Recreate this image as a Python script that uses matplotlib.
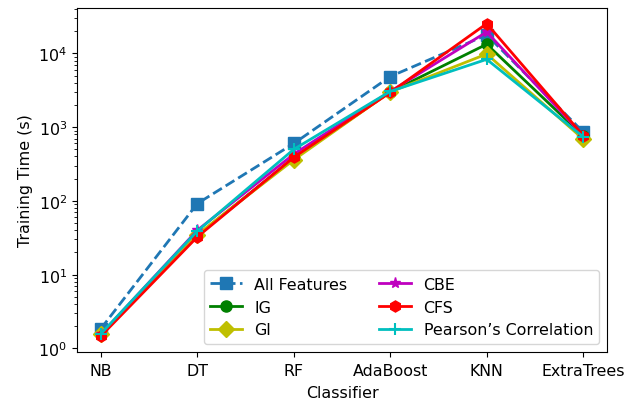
"""Training time per classifier, with and without feature selection.

Writes : out.png
"""

import matplotlib
matplotlib.use("Agg")
import matplotlib.pyplot as plt
import numpy as np

# ---------------------------------------------------------------------------
# Data
# ---------------------------------------------------------------------------

classifiers  = ["NB", "DT", "RF", "AdaBoost", "KNN", "ExtraTrees"]
all_features = [1.85, 92, 600, 4850, 17800, 860]
ig_times     = [1.55, 34, 380, 3000, 13300, 760]
gi_times     = [1.55, 35, 360, 3000, 9800, 690]
cbe_times    = [1.55, 40, 430, 3050, 19500, 770]
cfs_times    = [1.47, 32.5, 390, 2950, 25300, 770]
pearson      = [1.58, 39, 500, 3050, 8300, 740]

FONT = 11.4
plt.rcParams["font.size"] = FONT


def main() -> None:
    x = np.arange(len(classifiers))

    fig, ax = plt.subplots(figsize=(6.41, 4.02), dpi=100)
    fig.subplots_adjust(left=0.1197, right=0.9474, top=0.9776, bottom=0.1226)

    lw, ms = 2.0, 8
    ax.plot(x, all_features, "s--", color="#1f77b4", lw=lw, ms=ms, label="All Features")
    ax.plot(x, ig_times,     "o-",  color="g", lw=lw, ms=ms, label="IG")
    ax.plot(x, gi_times,     "D-",  color="y", lw=lw, ms=ms, label="GI")
    ax.plot(x, cbe_times,    "*-",  color="m", lw=lw, ms=ms, label="CBE")
    ax.plot(x, cfs_times,    "h-",  color="r", lw=lw, ms=ms, label="CFS")
    ax.plot(x, pearson,      "+-",  color="c", lw=lw, ms=ms + 1, mew=1.5,
            label="Pearson\u2019s Correlation")

    ax.set_yscale("log")
    ax.set_xticks(x)
    ax.set_xticklabels(classifiers)
    ax.tick_params(axis="x", pad=4.5)
    ax.set_xlabel("Classifier", labelpad=5)
    ax.set_ylabel("Training Time (s)")

    ax.legend(ncol=2, loc="lower right", fontsize=FONT,
              handlelength=2.0, columnspacing=2.0)

    fig.savefig("out.png", dpi=100)
    plt.close(fig)


if __name__ == "__main__":
    main()
